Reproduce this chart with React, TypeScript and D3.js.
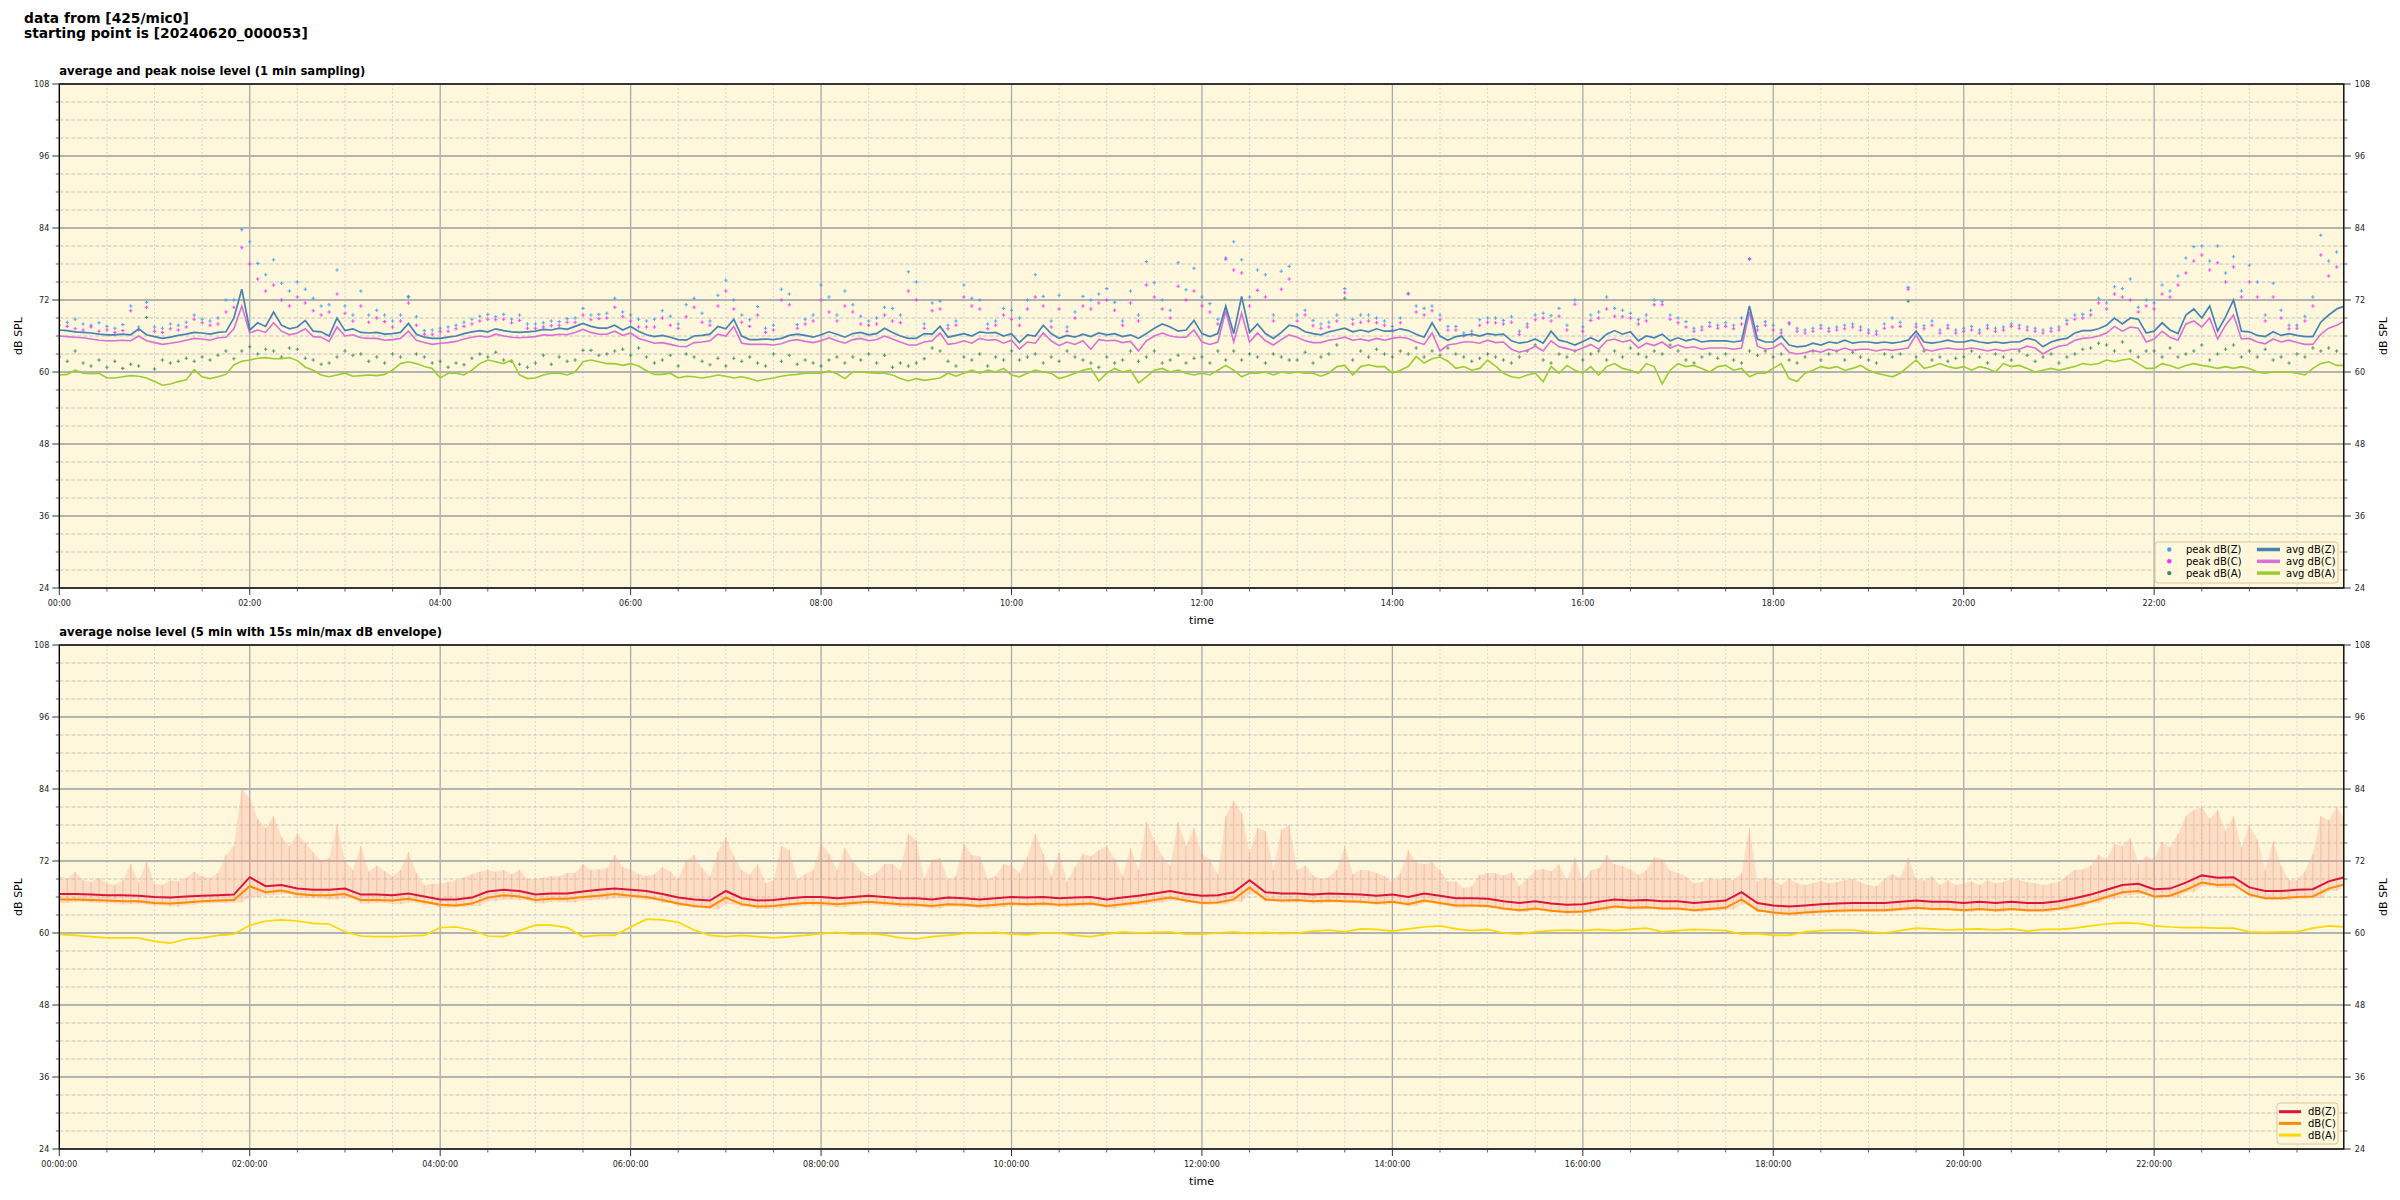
import React from 'react';
import * as d3 from 'd3';

// ---------- data (top panel: 5-minute readings, minutes 0..1440) ----------
const TOP_STEP = 5;
const avgZ = [
  67.0,66.9,66.7,66.6,66.5,66.3,66.2,66.2,66.3,66.2,67.2,66.2,
  65.9,65.6,65.8,66.1,66.3,66.6,66.5,66.3,66.6,66.7,69.0,73.8,
  67.0,68.2,67.6,70.0,67.8,67.2,67.5,68.6,66.8,66.7,66.0,69.0,
  66.9,67.2,66.6,66.5,66.6,66.3,66.4,66.6,68.1,66.3,65.8,65.6,
  65.6,65.8,66.0,66.4,66.7,66.9,66.7,67.2,66.9,66.7,66.6,66.7,
  66.8,67.1,67.0,67.3,67.1,67.6,68.1,67.6,67.3,67.3,67.8,67.0,
  67.6,66.8,66.2,65.9,66.1,65.8,65.4,65.3,66.0,66.1,66.3,67.6,
  67.2,68.8,66.0,65.4,65.4,65.5,65.4,65.6,66.1,66.3,66.1,65.8,
  66.2,66.7,66.3,65.8,66.4,66.6,66.2,66.4,67.3,66.6,66.0,65.6,
  65.6,66.4,66.3,67.6,65.8,66.1,66.4,66.0,66.7,66.5,66.6,66.0,
  66.4,64.9,66.2,66.0,67.8,66.4,65.6,66.1,65.8,66.3,65.9,66.5,
  66.2,66.4,65.9,66.2,65.6,66.4,67.3,68.0,67.5,66.8,67.0,68.6,
  66.4,65.9,66.4,71.0,66.4,72.6,66.6,68.0,66.4,65.6,66.6,67.8,
  67.5,66.7,66.4,66.2,66.7,67.0,67.3,66.7,67.0,66.7,67.2,66.8,
  66.8,67.2,66.9,66.3,65.8,68.2,66.0,65.3,65.9,66.1,66.3,66.0,
  66.4,66.2,66.3,65.2,64.8,65.0,65.5,64.8,66.8,65.3,65.0,64.5,
  65.1,65.7,65.1,66.3,66.9,66.3,66.7,65.2,66.0,65.7,66.3,65.2,
  65.7,65.2,65.5,65.0,65.2,65.2,65.2,65.0,65.2,71.0,65.5,65.0,
  65.0,66.0,64.5,64.2,64.3,64.8,64.5,65.0,64.8,65.3,64.8,65.0,
  65.0,64.8,65.0,64.8,65.0,65.3,66.8,65.0,64.8,65.0,65.3,65.0,
  65.0,65.3,65.0,64.8,65.0,64.8,65.0,65.0,65.6,65.3,64.2,65.0,
  65.4,65.6,66.5,66.9,66.9,67.2,67.8,69.0,68.0,69.0,68.8,66.5,
  66.8,68.2,67.0,66.4,69.5,70.5,69.0,71.0,66.8,69.2,72.0,66.8,
  66.7,66.1,65.9,66.7,66.1,66.4,66.1,65.9,65.9,68.3,69.5,70.5,
  71.0,
];
const avgC = [
  66.0,65.9,65.8,65.7,65.5,65.3,65.2,65.2,65.3,65.2,66.0,65.2,
  64.9,64.6,64.8,65.0,65.3,65.6,65.5,65.3,65.7,65.8,67.2,71.0,
  66.5,67.0,66.6,68.2,66.8,66.2,66.5,67.2,65.9,65.8,65.1,67.5,
  66.0,66.2,65.7,65.6,65.6,65.3,65.4,65.6,66.8,65.3,64.9,64.6,
  64.8,64.9,65.1,65.5,65.8,66.0,65.8,66.3,66.0,65.8,65.7,65.8,
  65.9,66.2,66.1,66.3,66.2,66.6,67.1,66.6,66.3,66.3,66.8,66.1,
  66.5,65.6,65.2,64.8,64.9,64.6,64.3,64.2,64.9,65.0,65.2,66.3,
  66.0,67.6,64.8,64.6,64.6,64.6,64.5,64.7,65.2,65.4,65.1,64.9,
  65.2,65.7,65.2,64.8,65.4,65.6,65.2,65.4,66.0,65.5,65.0,64.5,
  64.5,65.0,65.2,66.5,64.6,64.8,65.2,64.8,65.6,65.3,65.4,64.8,
  65.3,63.8,65.0,64.8,66.5,65.2,64.4,65.0,64.6,65.2,63.8,65.4,
  65.2,65.3,64.9,65.1,63.5,65.2,66.0,66.5,66.0,65.8,65.8,67.0,
  65.0,64.6,65.0,70.2,65.0,69.8,65.0,66.5,65.2,64.5,65.4,66.2,
  65.8,65.2,64.9,64.9,65.3,65.5,65.8,65.3,65.5,65.2,65.6,65.3,
  65.6,65.8,65.6,65.0,64.6,66.5,63.5,64.5,64.7,65.0,65.0,64.8,
  65.3,64.9,65.0,63.8,63.3,63.6,64.3,63.5,65.2,64.2,63.9,63.5,
  64.0,64.6,63.8,65.2,65.5,65.0,65.3,64.0,64.8,64.4,65.0,64.0,
  64.5,64.0,64.2,63.8,64.0,64.0,64.0,63.8,64.0,70.0,64.3,63.8,
  64.0,64.8,63.3,63.0,63.2,63.6,63.3,63.8,63.5,64.0,63.6,63.8,
  63.8,63.5,63.8,63.6,63.8,64.0,66.2,63.8,63.5,63.8,64.0,63.8,
  63.8,64.0,63.8,63.5,63.8,63.5,63.8,63.8,64.3,64.0,63.0,63.8,
  64.3,64.5,65.3,65.6,65.7,66.0,66.5,67.6,66.8,67.5,67.3,65.0,
  65.5,66.8,65.8,65.3,68.0,68.5,67.5,69.0,65.5,67.8,69.5,65.5,
  65.6,65.0,64.7,65.5,65.0,65.3,64.9,64.6,64.6,66.3,67.3,67.8,
  68.5,
];
const avgA = [
  59.5,59.6,60.3,59.8,59.7,59.8,59.0,59.0,59.2,59.4,59.3,59.0,
  58.4,57.8,58.0,58.4,58.7,60.4,59.2,58.9,59.2,59.6,61.2,61.8,
  62.0,62.3,62.4,62.2,62.2,62.4,61.9,60.8,60.3,59.5,59.2,59.5,
  59.8,59.3,59.4,59.5,59.4,59.6,60.3,61.4,61.7,61.4,60.9,60.6,
  59.0,59.8,59.8,59.5,60.3,61.4,62.0,61.7,61.4,62.0,59.5,58.9,
  59.0,59.5,59.8,59.8,59.5,60.0,61.7,62.0,61.7,61.4,61.4,61.1,
  61.4,61.0,60.2,59.6,59.6,59.8,59.0,59.3,59.2,59.0,59.2,59.5,
  59.3,59.0,59.2,58.9,58.5,58.8,59.0,59.3,59.5,59.6,59.8,59.8,
  59.8,60.2,59.7,58.9,60.0,60.0,59.9,59.8,59.8,59.5,58.9,58.5,
  58.9,58.6,58.8,59.0,59.8,59.3,59.8,60.3,59.8,60.3,60.0,60.6,
  59.5,59.2,59.8,60.3,60.0,59.8,58.9,59.3,59.8,60.3,60.6,58.5,
  59.8,60.6,60.0,60.3,58.2,59.2,60.3,60.6,60.0,60.3,59.8,59.5,
  59.8,59.5,60.3,61.1,60.3,59.2,59.8,59.8,60.0,59.5,60.0,59.8,
  60.0,59.8,59.8,59.3,59.8,60.9,61.1,59.5,60.9,61.2,60.9,60.9,
  59.8,60.3,60.9,62.6,61.5,62.2,62.5,61.8,60.6,60.9,60.3,60.6,
  62.0,61.0,59.8,59.2,59.0,59.5,59.8,58.4,60.9,59.8,61.1,60.3,
  59.8,60.9,59.5,60.9,61.4,60.6,60.3,59.8,61.4,60.9,58.0,60.3,
  61.4,60.9,61.1,60.6,60.0,60.9,61.1,60.3,60.6,59.2,59.8,59.8,
  60.6,61.4,58.9,58.4,59.8,60.3,60.9,60.6,60.9,60.3,60.6,61.1,
  60.3,59.8,59.5,59.2,59.8,60.9,62.0,60.6,60.9,61.4,60.9,60.6,
  60.9,60.3,60.9,60.6,60.0,61.4,60.9,61.1,60.6,60.0,60.3,60.6,
  60.3,60.6,60.9,61.4,61.2,61.4,62.0,61.7,62.0,62.2,61.4,60.6,
  60.6,61.4,61.1,60.6,61.1,61.4,61.1,60.9,60.6,60.9,60.6,60.9,
  60.6,60.0,59.8,60.0,60.0,60.0,59.8,59.5,60.6,61.4,61.7,61.1,
  61.1,
];
const peakZ = [
  68.5,68.3,68.8,68.0,67.8,68.2,67.6,67.3,67.9,71.0,67.5,71.6,
  67.5,67.3,68.0,67.8,68.3,69.5,68.8,68.5,69.0,72.0,72.0,83.7,
  81.7,78.1,76.2,78.7,74.8,73.5,75.0,73.8,72.3,71.0,71.2,77.0,
  71.0,69.5,73.5,69.5,70.3,69.5,68.5,69.5,72.6,69.2,66.9,67.0,
  67.3,67.5,67.8,68.3,68.8,69.3,69.6,69.2,69.6,68.8,69.5,68.0,
  68.0,68.2,68.5,68.4,68.9,69.0,70.6,69.5,69.6,69.8,72.3,70.0,
  69.5,68.8,68.5,68.8,70.2,69.3,68.0,71.2,72.3,69.8,68.5,72.8,
  75.3,72.0,69.5,68.7,70.9,67.3,67.8,73.8,73.0,67.9,68.8,69.5,
  74.5,72.5,69.5,73.5,71.2,69.3,68.5,69.0,70.8,70.6,69.5,76.7,
  75.0,68.0,71.5,71.8,67.8,68.5,74.5,72.3,72.0,68.0,68.5,70.6,
  70.3,69.0,72.0,76.2,72.6,68.5,72.8,67.5,70.0,72.6,72.0,73.0,
  73.9,71.6,68.5,73.5,69.5,78.4,74.9,72.0,70.3,78.2,73.7,77.3,
  72.5,71.4,68.8,79.0,81.7,78.7,72.5,77.0,76.2,69.5,76.8,77.6,
  69.5,70.3,68.6,68.0,68.3,69.5,73.9,68.8,69.5,69.5,69.0,68.5,
  67.6,69.0,73.1,71.0,70.6,71.0,69.5,67.6,67.6,66.5,66.8,68.7,
  69.0,69.0,68.6,69.2,66.8,68.0,69.5,69.8,69.4,70.6,67.8,72.0,
  67.5,69.5,70.0,72.5,70.6,70.3,69.8,68.7,69.5,72.0,71.7,69.5,
  69.0,68.4,67.3,67.5,68.2,67.8,68.2,67.8,69.0,78.9,67.6,68.4,
  67.8,67.0,68.0,67.3,67.0,67.3,67.8,67.3,67.5,67.8,68.0,67.5,
  67.0,66.8,68.0,69.0,68.3,74.1,68.0,67.7,68.5,67.0,67.8,67.0,
  67.3,67.6,67.0,67.8,67.3,67.5,68.0,67.8,67.5,67.3,67.0,67.3,
  67.5,68.6,69.5,69.6,70.3,72.3,71.5,74.2,73.9,75.5,70.8,72.0,
  71.5,74.5,73.5,76.0,79.0,80.9,81.0,78.5,81.0,76.5,79.2,73.5,
  77.8,75.0,69.5,74.8,70.3,67.8,67.8,69.3,72.5,82.8,78.5,80.0,
  78.0,
];
const peakC = [
  67.8,67.6,67.2,67.0,67.5,66.8,67.0,66.6,66.9,70.2,67.0,70.8,
  66.8,66.6,67.2,67.0,67.5,68.8,68.2,67.8,68.0,70.0,70.8,80.7,
  78.0,75.5,73.5,74.5,72.0,71.0,72.5,71.5,70.2,69.5,70.0,73.0,
  69.8,68.5,71.0,68.3,69.0,68.4,67.5,68.5,71.5,67.8,66.3,66.3,
  66.7,66.8,67.2,67.6,68.0,68.5,68.8,68.7,68.8,68.2,68.6,67.3,
  67.3,67.5,67.7,67.8,68.3,68.3,69.5,68.7,68.9,69.0,70.8,69.2,
  68.5,67.5,67.5,67.5,69.0,67.8,67.3,69.2,70.8,68.3,67.8,71.0,
  73.5,70.5,68.3,67.6,69.5,66.6,67.0,72.0,71.2,67.3,68.0,68.5,
  72.0,70.0,68.5,71.0,70.0,68.0,67.8,68.0,69.5,68.5,68.2,73.5,
  72.0,67.3,70.2,70.5,67.2,67.8,72.5,71.0,70.5,67.2,67.8,69.5,
  68.8,67.8,70.5,72.5,71.0,67.5,70.5,66.8,69.0,71.0,70.5,71.5,
  72.0,70.3,67.8,71.5,68.5,74.5,72.5,70.5,69.0,74.3,72.0,73.5,
  71.0,70.0,68.0,78.8,77.0,76.5,71.0,73.6,72.5,68.5,73.8,75.5,
  68.5,69.5,67.7,67.3,67.5,68.5,73.2,68.0,68.3,68.5,68.2,67.8,
  67.0,68.2,73.0,70.0,69.5,70.2,68.7,67.0,67.0,66.0,66.2,67.8,
  68.3,68.2,68.0,68.3,66.3,67.5,68.7,69.0,68.5,69.3,67.0,71.3,
  66.8,68.6,69.0,70.5,69.3,69.2,69.0,68.0,68.5,71.2,71.2,68.8,
  68.2,67.5,66.8,67.0,67.6,67.3,67.6,67.2,68.0,78.8,67.0,67.8,
  67.0,66.5,68.2,66.8,66.5,66.8,67.3,66.8,67.0,67.2,67.5,67.0,
  66.5,66.3,67.3,67.5,67.6,73.8,67.5,67.2,67.8,66.5,67.3,66.5,
  66.8,67.0,66.5,67.3,66.8,67.0,67.6,67.3,67.0,66.8,66.5,66.8,
  67.0,68.0,68.8,69.0,69.5,71.5,70.5,73.0,72.5,72.0,70.0,71.0,
  70.5,73.0,72.5,74.5,76.5,78.5,79.5,77.0,78.2,75.0,77.5,72.5,
  75.0,72.5,68.5,72.5,69.0,67.2,67.3,68.5,71.0,79.5,76.0,77.5,
  76.5,
];
const peakA = [
  62.5,61.8,63.5,61.5,61.0,62.0,60.8,61.8,60.6,61.3,61.0,69.1,
  60.5,62.0,61.5,61.8,62.3,61.8,62.5,62.0,62.8,63.5,62.2,63.5,
  64.2,63.0,63.8,63.5,62.5,64.0,63.8,62.3,62.0,61.3,61.5,62.5,
  63.5,62.8,63.0,61.8,62.5,61.5,63.0,62.5,72.5,63.0,62.5,61.5,
  61.8,60.8,61.5,61.2,62.3,63.0,62.5,63.3,62.0,61.8,61.3,60.8,
  61.5,62.8,61.3,62.5,61.8,62.0,63.6,63.6,62.8,63.0,63.5,63.8,
  62.8,64.0,62.5,61.5,62.0,62.8,61.0,63.0,62.5,61.8,61.2,62.3,
  61.0,62.3,61.8,62.5,61.5,61.0,63.0,61.8,62.8,61.3,62.0,61.5,
  61.0,62.0,62.5,61.5,62.5,62.0,63.0,61.5,62.8,60.8,61.5,61.0,
  61.5,62.2,64.0,63.5,61.8,61.0,62.5,62.0,63.0,61.0,62.5,62.0,
  63.5,62.0,62.5,63.0,61.5,62.5,61.8,63.5,62.5,62.0,61.5,60.8,
  62.5,61.5,62.0,63.5,61.8,62.5,63.5,61.5,62.0,62.8,61.5,62.3,
  62.5,61.5,63.5,62.0,63.5,62.0,63.0,62.5,61.5,63.0,62.5,62.0,
  62.0,63.3,61.5,62.5,63.0,64.5,72.3,62.0,63.5,62.5,63.8,63.0,
  62.5,63.5,63.0,64.0,62.5,63.5,62.8,64.0,63.0,62.5,61.8,62.3,
  63.0,62.5,62.0,61.5,62.5,63.5,64.5,62.0,61.5,63.0,62.5,63.5,
  62.0,63.0,63.5,62.0,63.5,62.5,64.0,63.0,62.5,63.5,63.0,64.5,
  63.5,62.0,61.5,62.5,63.0,62.3,63.0,62.0,61.5,63.5,62.8,63.5,
  62.5,63.0,62.0,61.5,62.5,63.5,62.0,63.0,63.5,62.0,63.3,62.5,
  62.0,61.5,63.0,62.5,63.0,71.8,62.5,63.5,62.0,62.5,61.8,62.3,
  62.5,63.5,62.5,61.5,63.0,62.5,62.0,63.5,62.8,61.8,62.5,63.0,
  61.5,62.5,63.0,63.8,64.0,64.8,64.5,63.5,65.0,63.5,62.5,63.5,
  63.5,62.5,64.0,62.5,63.0,63.5,64.5,62.0,63.0,63.8,64.5,62.5,
  63.5,62.5,63.8,62.0,62.5,61.5,63.0,62.5,64.0,63.5,64.0,63.5,
  64.5,
];

// ---------- data (bottom panel) ----------
const BOT_STEP = 10; // minutes, smoothed lines
const botZ = [
  66.5,66.5,66.4,66.3,66.3,66.2, 66.0,65.9,66.1,66.2,66.3,66.4,
  69.3,67.8,68.0,67.4,67.2,67.2, 67.4,66.4,66.4,66.3,66.6,66.1,
  65.6,65.6,65.9,66.9,67.2,67.0, 66.4,66.6,66.6,66.9,67.2,67.4,
  67.2,67.0,66.5,65.9,65.6,65.4, 67.0,65.8,65.4,65.5,65.8,66.0,
  66.0,65.8,66.0,66.2,66.0,65.8, 65.8,65.6,65.9,65.8,65.6,65.8,
  66.0,65.9,66.0,65.8,65.9,66.0, 65.6,65.9,66.2,66.6,67.0,66.5,
  66.2,66.3,66.8,68.8,66.8,66.6, 66.6,66.4,66.6,66.5,66.4,66.2,
  66.4,66.0,66.6,66.2,65.8,65.8, 65.7,65.3,65.0,65.3,64.9,64.7,
  64.8,65.2,65.6,65.4,65.5,65.3, 65.3,65.0,65.2,65.4,66.8,65.0,
  64.6,64.4,64.6,64.8,64.9,65.0, 65.0,65.0,65.2,65.4,65.2,65.2,
  65.0,65.2,65.0,65.2,65.0,65.0, 65.3,65.8,66.4,67.2,68.0,68.2,
  67.3,67.4,68.4,69.6,69.2,69.3, 67.6,67.0,67.0,67.2,67.3,68.6,
  69.3,
];
const botC = [
  65.6,65.6,65.5,65.4,65.3,65.3, 65.0,64.9,65.1,65.3,65.4,65.5,
  67.8,66.8,67.1,66.5,66.3,66.3, 66.5,65.5,65.5,65.4,65.7,65.2,
  64.7,64.6,64.9,65.9,66.3,66.1, 65.5,65.7,65.7,66.0,66.2,66.5,
  66.2,66.0,65.5,64.9,64.5,64.3, 65.9,64.8,64.4,64.5,64.8,65.0,
  65.0,64.8,65.0,65.2,65.0,64.8, 64.7,64.5,64.8,64.7,64.5,64.7,
  64.9,64.8,64.9,64.7,64.8,64.9, 64.5,64.8,65.1,65.5,65.9,65.4,
  65.0,65.1,65.6,67.6,65.6,65.4, 65.5,65.3,65.4,65.3,65.2,65.0,
  65.2,64.8,65.4,65.0,64.6,64.6, 64.5,64.1,63.8,64.1,63.7,63.5,
  63.6,64.0,64.4,64.2,64.3,64.1, 64.1,63.8,64.0,64.2,65.6,63.8,
  63.4,63.2,63.4,63.6,63.7,63.8, 63.8,63.8,64.0,64.2,64.0,64.0,
  63.8,64.0,63.8,64.0,63.8,63.8, 64.1,64.6,65.2,66.0,66.8,67.0,
  66.1,66.2,67.2,68.4,68.0,68.1, 66.4,65.8,65.8,66.0,66.1,67.4,
  68.1,
];
const botA = [
  59.8,59.6,59.4,59.2,59.2,59.2, 58.6,58.3,59.0,59.2,59.6,59.8,
  61.3,62.0,62.2,62.0,61.6,61.5, 60.2,59.5,59.4,59.4,59.5,59.6,
  60.9,61.0,60.5,59.5,59.4,60.4, 61.3,61.3,60.9,59.4,59.6,59.6,
  61.0,62.3,62.2,61.8,60.5,59.6, 59.4,59.6,59.4,59.2,59.4,59.6,
  59.9,60.1,59.8,59.9,59.7,59.2, 59.0,59.4,59.6,59.9,60.0,60.1,
  59.8,59.7,60.0,60.0,59.6,59.4, 59.8,60.2,60.0,60.1,60.2,59.8,
  59.8,60.0,60.2,59.9,60.1,59.9, 60.0,60.3,60.5,60.2,60.7,60.6,
  60.3,60.7,61.0,61.2,60.7,60.4, 60.6,60.0,59.8,60.2,60.4,60.5,
  60.4,60.6,60.4,60.6,60.8,60.2, 60.4,60.6,60.5,60.4,59.8,59.9,
  59.6,59.6,60.2,60.4,60.5,60.5, 60.2,60.0,60.4,60.8,60.7,60.5,
  60.6,60.7,60.5,60.7,60.3,60.6, 60.6,60.8,61.2,61.5,61.7,61.6,
  61.2,61.0,60.9,60.9,60.8,60.8, 60.2,60.1,60.2,60.2,60.8,61.2,
  61.0,
];
// 15 s min/max envelope: max at 5-min readings, min at 10-min readings
const envMax = [
  69.5,69.0,70.2,68.8,68.5,69.2,68.3,68.0,68.8,71.5,68.4,72.0,
  68.2,68.0,68.8,68.6,69.2,70.2,69.5,69.2,70.0,73.0,74.5,84.0,
  82.5,79.0,77.5,79.5,76.0,74.5,76.5,75.0,73.5,72.0,72.5,78.0,
  72.0,70.5,74.5,70.2,71.2,70.3,69.5,70.5,73.5,70.0,68.0,68.2,
  68.2,68.5,68.8,69.3,69.8,70.2,70.5,70.2,70.5,69.8,70.5,69.0,
  69.0,69.2,69.5,69.4,70.0,70.0,71.5,70.5,70.6,70.8,73.0,71.0,
  70.5,69.8,69.5,69.8,71.0,70.2,69.0,72.0,73.0,70.8,69.5,73.5,
  76.0,72.8,70.5,69.7,71.5,68.3,68.8,74.5,73.8,68.9,69.8,70.5,
  75.0,73.2,70.5,74.2,72.0,70.3,69.5,70.0,71.5,71.5,70.5,76.5,
  75.5,69.0,72.2,72.5,68.8,69.5,75.0,73.0,72.8,69.0,69.5,71.5,
  71.2,70.0,72.8,76.5,73.2,69.5,73.5,68.5,71.0,73.2,72.8,73.8,
  74.5,72.4,69.5,74.2,70.5,78.5,75.5,72.8,71.2,78.5,74.5,77.5,
  73.2,72.2,69.8,79.5,82.0,80.0,73.5,77.5,77.0,70.5,77.2,78.0,
  70.5,71.2,69.6,69.0,69.3,70.5,74.5,69.8,70.5,70.4,70.0,69.5,
  68.6,70.0,73.8,71.8,71.5,71.8,70.4,68.6,68.6,67.5,67.8,69.7,
  70.0,70.0,69.6,70.1,67.8,69.0,70.4,70.7,70.3,71.4,68.8,72.6,
  68.5,70.4,70.8,73.0,71.4,71.2,70.6,69.7,70.4,72.6,72.3,70.4,
  70.0,69.4,68.3,68.5,69.2,68.8,69.2,68.8,70.0,77.5,68.6,69.3,
  68.8,68.0,69.0,68.3,68.0,68.3,68.7,68.3,68.5,68.8,69.0,68.5,
  68.0,67.8,69.0,69.8,69.2,72.5,69.0,68.7,69.4,68.0,68.8,68.0,
  68.3,68.6,68.0,68.8,68.3,68.5,69.0,68.8,68.5,68.3,68.0,68.3,
  68.5,69.6,70.5,70.6,71.2,73.0,72.3,74.8,74.5,75.8,71.6,72.8,
  72.3,75.2,74.3,76.5,79.5,80.5,81.0,79.0,80.5,77.0,79.5,74.3,
  78.0,75.6,70.5,75.3,71.2,68.8,68.8,70.3,73.2,79.5,78.8,81.0,
  79.0,
];
const envMin = [
  65.0,65.2,65.0,64.9,64.8,64.8, 64.6,64.4,64.7,64.9,65.0,65.1,
  66.0,66.3,66.5,65.9,65.8,65.6, 65.8,64.9,65.0,64.8,65.1,64.7,
  64.2,64.3,64.5,65.3,65.6,65.5, 64.9,65.2,65.1,65.4,65.6,65.8,
  65.8,65.5,65.0,64.5,64.2,64.0, 64.8,64.4,64.0,64.1,64.4,64.6,
  64.5,64.3,64.6,64.7,64.5,64.3, 64.3,64.1,64.4,64.3,64.1,64.3,
  64.5,64.4,64.5,64.3,64.4,64.5, 64.1,64.4,64.7,65.0,65.4,65.0,
  64.7,64.8,65.2,66.5,65.3,65.1, 65.1,64.9,65.1,65.0,64.9,64.7,
  64.8,64.5,65.0,64.6,64.2,64.3, 64.2,63.8,63.5,63.8,63.4,63.2,
  63.3,63.7,64.1,63.9,64.0,63.8, 63.8,63.5,63.7,63.9,64.8,63.5,
  63.1,62.9,63.1,63.3,63.4,63.5, 63.5,63.5,63.7,63.9,63.7,63.7,
  63.5,63.7,63.5,63.7,63.5,63.5, 63.8,64.3,64.9,65.6,66.3,66.5,
  65.8,65.9,66.8,67.8,67.5,67.6, 66.1,65.5,65.5,65.7,65.8,67.0,
  67.8,
];

// ---------- axis / labels ----------
const yTicksMajor = [24, 36, 48, 60, 72, 84, 96, 108];
const xMajorHours = [0, 2, 4, 6, 8, 10, 12, 14, 16, 18, 20, 22];
const titleLines = ['data from [425/mic0]', 'starting point is [20240620_000053]'];
const topTitle = 'average and peak noise level (1 min sampling)';
const botTitle = 'average noise level (5 min with 15s min/max dB envelope)';
const topLegend = [
  { label: 'peak dB(Z)', color: '#3d9df5', kind: 'dot' },
  { label: 'peak dB(C)', color: '#ff2bff', kind: 'dot' },
  { label: 'peak dB(A)', color: '#3a8a5c', kind: 'dot' },
  { label: 'avg dB(Z)', color: '#4682b4', kind: 'line' },
  { label: 'avg dB(C)', color: '#da70d6', kind: 'line' },
  { label: 'avg dB(A)', color: '#9acd32', kind: 'line' },
];
const botLegend = [
  { label: 'dB(Z)', color: '#dc143c' },
  { label: 'dB(C)', color: '#ff8c00' },
  { label: 'dB(A)', color: '#ffd700' },
];

// ---------- layout ----------
const X0 = 59.3;
const X1 = 2343.8;
const FONT = 'DejaVu Sans, sans-serif';
const BG = '#fff7dc';

const x = d3.scaleLinear().domain([0, 1439.5]).range([X0, X1]);

function pad2(n: number) {
  return String(n).padStart(2, '0');
}

function Panel(props: {
  y0: number;
  y1: number;
  id: string;
  title: string;
  tickFmt: (h: number) => string;
  children: (y: d3.ScaleLinear<number, number>) => React.ReactNode;
}) {
  const { y0, y1, id, title, tickFmt, children } = props;
  const y = d3.scaleLinear().domain([24, 108]).range([y1, y0]);
  const minorY = d3.range(24, 108.01, 3).filter((v) => v % 12 !== 0);
  const minorX = d3.range(0, 24, 0.5).filter((h) => h % 2 !== 0);
  const midY = (y0 + y1) / 2;
  return (
    <g>
      <rect x={X0} y={y0} width={X1 - X0} height={y1 - y0} fill={BG} />
      {/* minor grid */}
      {minorX.map((h) => (
        <line key={'mx' + h} x1={x(h * 60)} x2={x(h * 60)} y1={y0} y2={y1}
          stroke="#cfcfcf" strokeWidth={0.8} strokeDasharray="2,2" />
      ))}
      {minorY.map((v) => (
        <line key={'my' + v} x1={X0} x2={X1} y1={y(v)} y2={y(v)}
          stroke="#bdbdbd" strokeWidth={0.9} strokeDasharray="4,2" />
      ))}
      {/* major grid */}
      {xMajorHours.filter((h) => h > 0).map((h) => (
        <line key={'Mx' + h} x1={x(h * 60)} x2={x(h * 60)} y1={y0} y2={y1}
          stroke="#aaaaaa" strokeWidth={1.3} />
      ))}
      {yTicksMajor.map((v) => (
        <line key={'My' + v} x1={X0} x2={X1} y1={y(v)} y2={y(v)}
          stroke="#b3b3b3" strokeWidth={1.8} />
      ))}
      <clipPath id={id}>
        <rect x={X0} y={y0} width={X1 - X0} height={y1 - y0} />
      </clipPath>
      <g clipPath={`url(#${id})`}>{children(y)}</g>
      {/* spines */}
      <rect x={X0} y={y0} width={X1 - X0} height={y1 - y0} fill="none" stroke="#000" strokeWidth={1.4} />
      {/* y ticks */}
      {yTicksMajor.map((v) => (
        <g key={'yt' + v}>
          <line x1={X0 - 7} x2={X0} y1={y(v)} y2={y(v)} stroke="#333" strokeWidth={1} />
          <line x1={X1} x2={X1 + 7} y1={y(v)} y2={y(v)} stroke="#333" strokeWidth={1} />
          <text x={X0 - 10} y={y(v)} dy="0.35em" textAnchor="end" fontSize={8} fill="#222" fontFamily={FONT}>{v}</text>
          <text x={X1 + 11} y={y(v)} dy="0.35em" textAnchor="start" fontSize={8} fill="#222" fontFamily={FONT}>{v}</text>
        </g>
      ))}
      {minorY.map((v) => (
        <g key={'ymt' + v}>
          <line x1={X0 - 3.5} x2={X0} y1={y(v)} y2={y(v)} stroke="#333" strokeWidth={0.8} />
          <line x1={X1} x2={X1 + 3.5} y1={y(v)} y2={y(v)} stroke="#333" strokeWidth={0.8} />
        </g>
      ))}
      {/* x ticks */}
      {xMajorHours.map((h) => (
        <g key={'xt' + h}>
          <line x1={x(h * 60)} x2={x(h * 60)} y1={y1} y2={y1 + 7} stroke="#333" strokeWidth={1} />
          <text x={x(h * 60)} y={y1 + 18} textAnchor="middle" fontSize={8} fill="#222" fontFamily={FONT}>{tickFmt(h)}</text>
        </g>
      ))}
      {minorX.map((h) => (
        <line key={'xmt' + h} x1={x(h * 60)} x2={x(h * 60)} y1={y1} y2={y1 + 3.5} stroke="#333" strokeWidth={0.8} />
      ))}
      {/* labels */}
      <text x={X0} y={y0 - 9} fontSize={11.6} fontWeight="bold" fontFamily={FONT} fill="#000">{title}</text>
      <text x={(X0 + X1) / 2} y={y1 + 36} textAnchor="middle" fontSize={11} fontFamily={FONT} fill="#000">time</text>
      <text transform={`translate(18,${midY}) rotate(-90)`} textAnchor="middle" dy="0.35em" fontSize={11} fontFamily={FONT} fill="#000">dB SPL</text>
      <text transform={`translate(2383,${midY}) rotate(-90)`} textAnchor="middle" dy="0.35em" fontSize={11} fontFamily={FONT} fill="#000">dB SPL</text>
    </g>
  );
}

const PLUS = 'M-1.7,0H1.7M0,-1.7V1.7';

export default function App() {
  const tTop = (i: number) => x(i * TOP_STEP);
  const tBot = (i: number) => x(i * BOT_STEP);

  return (
    <svg width={2400} height={1200} viewBox="0 0 2400 1200"
      style={{ position: 'absolute', left: 0, top: 0, background: '#fff' }}>
      <rect width={2400} height={1200} fill="#fff" />
      {titleLines.map((t, i) => (
        <text key={t} x={24} y={22.5 + i * 15} fontSize={13.8} fontWeight="bold" fontFamily={FONT} fill="#000">{t}</text>
      ))}

      <Panel y0={84} y1={588} id="clipTop" title={topTitle} tickFmt={(h) => `${pad2(h)}:00`}>
        {(y) => {
          const line = (arr: number[]) =>
            d3.line<number>().x((_, i) => tTop(i)).y((v) => y(v))(arr) || '';
          const dots = (arr: number[], color: string, key: string) =>
            arr.map((v, i) => (
              <path key={key + i} d={PLUS} transform={`translate(${tTop(i)},${y(v)})`}
                stroke={color} strokeWidth={1.1} opacity={0.85} />
            ));
          return (
            <g>
              {dots(peakA, '#3a8a5c', 'pa')}
              {dots(peakZ, '#3d9df5', 'pz')}
              {dots(peakC, '#ff2bff', 'pc')}
              <path d={line(avgA)} fill="none" stroke="#9acd32" strokeWidth={1.6} />
              <path d={line(avgC)} fill="none" stroke="#da70d6" strokeWidth={1.6} />
              <path d={line(avgZ)} fill="none" stroke="#4682b4" strokeWidth={1.7} />
            </g>
          );
        }}
      </Panel>

      <Panel y0={645} y1={1149} id="clipBot" title={botTitle} tickFmt={(h) => `${pad2(h)}:00:00`}>
        {(y) => {
          const line = (arr: number[]) =>
            d3.line<number>().x((_, i) => tBot(i)).y((v) => y(v))(arr) || '';
          const lo = (i: number) => y(envMin[Math.floor(i / 2)]);
          const env = d3.area<number>()
            .x((_, i) => tTop(i))
            .y1((v) => y(v))
            .y0((_, i) => lo(i))(envMax) || '';
          return (
            <g>
              <path d={env} fill="#f3a58e" opacity={0.3} />
              {envMax.map((v, i) => (
                <line key={'ev' + i} x1={tTop(i)} x2={tTop(i)} y1={lo(i)} y2={y(v)}
                  stroke="#f2a08a" strokeOpacity={0.45} strokeWidth={1.2} />
              ))}
              <path d={line(botA)} fill="none" stroke="#ffd700" strokeWidth={1.7} />
              <path d={line(botC)} fill="none" stroke="#ff8c00" strokeWidth={2} />
              <path d={line(botZ)} fill="none" stroke="#dc143c" strokeWidth={2} />
            </g>
          );
        }}
      </Panel>

      {/* top legend */}
      <g fontFamily={FONT} fontSize={10}>
        <rect x={2155} y={542} width={183} height={41} rx={3} fill={BG} fillOpacity={0.9} stroke="#dcc69c" strokeWidth={1} />
        {topLegend.map((d, i) => {
          const col = i < 3 ? 0 : 1;
          const row = i % 3;
          const cy = 549.5 + row * 11.8;
          return (
            <g key={d.label}>
              {d.kind === 'dot' ? (
                <circle cx={2169.3} cy={cy} r={2.2} fill={d.color} />
              ) : (
                <line x1={2257} x2={2280} y1={cy} y2={cy} stroke={d.color} strokeWidth={3.5} />
              )}
              <text x={col === 0 ? 2186 : 2286} y={cy} dy="0.35em" fill="#000">{d.label}</text>
            </g>
          );
        })}
      </g>

      {/* bottom legend */}
      <g fontFamily={FONT} fontSize={10}>
        <rect x={2277} y={1103} width={61} height={41} rx={3} fill={BG} fillOpacity={0.9} stroke="#dcc69c" strokeWidth={1} />
        {botLegend.map((d, i) => {
          const cy = 1111.7 + i * 11.7;
          return (
            <g key={d.label}>
              <line x1={2279} x2={2301} y1={cy} y2={cy} stroke={d.color} strokeWidth={3} />
              <text x={2308} y={cy} dy="0.35em" fill="#000">{d.label}</text>
            </g>
          );
        })}
      </g>
    </svg>
  );
}
